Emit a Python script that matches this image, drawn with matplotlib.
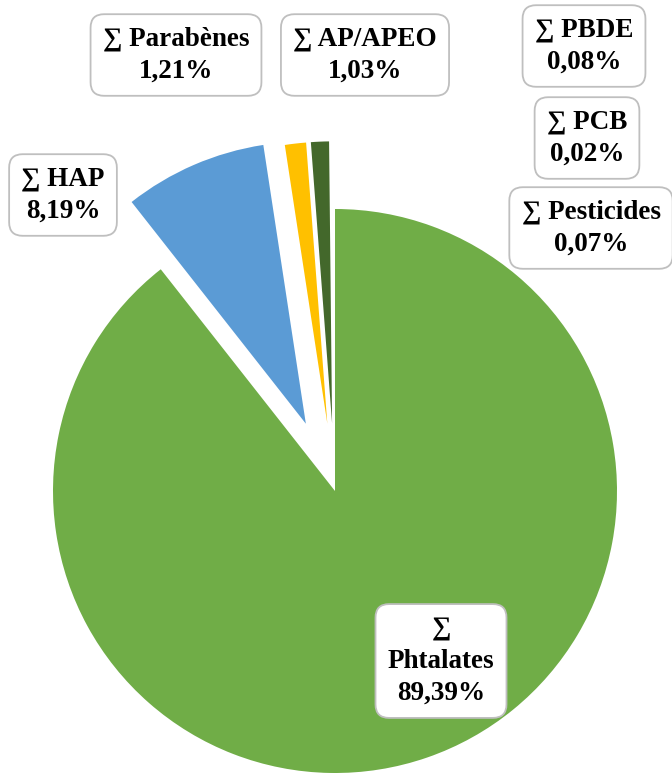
import matplotlib.pyplot as plt

# === Data ===
labels = ["Phtalates", "HAP", "Parabènes", "AP/APEO", "PBDE", "PCB", "Pesticides"]
shares = [89.39, 8.19, 1.21, 1.03, 0.08, 0.02, 0.07]
colors = ["#70AD47", "#5B9BD5", "#FFC000", "#43682B", "white", "white", "white"]
explode = [0.0, 0.26, 0.24, 0.24, 0.24, 0.24, 0.24]

# label box centres, in pixels from the top-left corner of the picture
label_pos = [(441, 661), (63, 195), (176, 55), (365, 55), (584, 46), (587, 138), (591, 228)]

W, H = 672, 773
cx, cy, r = 335, 491, 282  # pie centre and radius in pixels

fig = plt.figure(figsize=(W / 100, H / 100), dpi=100)
ax = fig.add_axes([0, 0, 1, 1])

ax.pie(shares, colors=colors, explode=explode, startangle=90, counterclock=False,
       radius=1.0, wedgeprops=dict(linewidth=0, antialiased=True))

ax.set_xlim(-cx / r, (W - cx) / r)
ax.set_ylim(-(H - cy) / r, cy / r)
ax.set_aspect("equal", adjustable="box")
ax.axis("off")

font = dict(family=["Liberation Serif", "DejaVu Serif"], weight="bold", size=19.5)
box = dict(boxstyle="round,pad=0.45,rounding_size=0.5", facecolor="white",
           edgecolor="#BFBFBF", linewidth=1.3)

for name, val, (px, py) in zip(labels, shares, label_pos):
    pct = f"{val:.2f}".replace(".", ",") + "%"
    if name == "Phtalates":
        txt = f"\u2211\n{name}\n{pct}"
    else:
        txt = f"\u2211 {name}\n{pct}"
    fig.text(px / W, 1 - py / H, txt, ha="center", va="center", ma="center",
             linespacing=1.38, bbox=box, **font)

plt.savefig("out.png", dpi=100)
